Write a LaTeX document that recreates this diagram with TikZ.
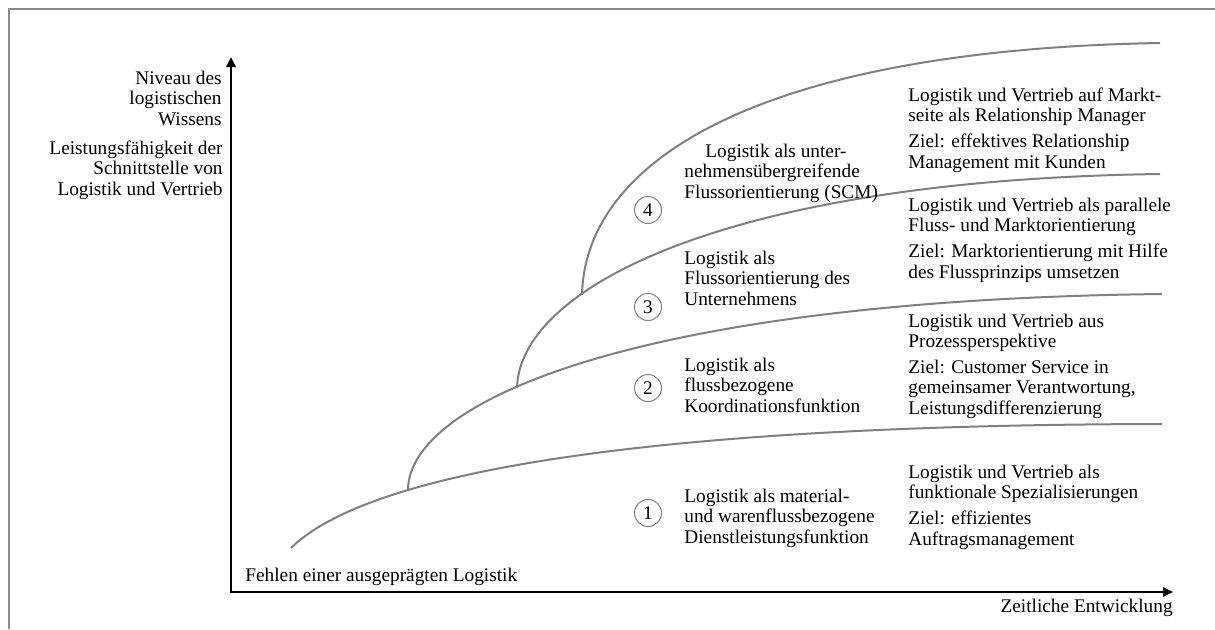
\documentclass[tikz,border=0pt]{standalone}
\usepackage{fontspec}
\setmainfont{Liberation Serif}
\usetikzlibrary{arrows.meta}
\begin{document}
\begin{tikzpicture}[>={Triangle[length=5pt,width=4.5pt]},x=0.5pt,y=0.5pt,
		font=\fontsize{9.65}{10.15}\selectfont,
		kurve/.style={draw=gray, line width=1pt},
		txt/.style={align=left, inner sep=0pt, anchor=base west},
		nr/.style={circle, draw=gray, line width=0.5pt, minimum size=13.5pt, inner sep=0pt}]
		\useasboundingbox (0,0) rectangle (1215,629);
		\draw[gray!90, line width=0.75pt] (9,0) -- (9,620) -- (1215,620); % Rahmen
		\coordinate (O) at (231,37);
		\coordinate (ytip) at (231,572);
		\coordinate (xtip) at (1173,37);
		\draw[<->, line width=1.2pt] (ytip) |- (xtip);
		\node[txt, anchor=base east, align=right] (niveau) at (222,504) {Niveau des\\logistischen\\Wissens};
		\node[txt, anchor=base east, align=right] (leistung) at (223,434) {Leistungsfähigkeit der\\Schnittstelle von\\Logistik und Vertrieb};
		\node[txt] (fehlen) at (245,48) {Fehlen einer ausgeprägten Logistik};
		\node[txt, anchor=base east] (zeit) at (1173,17) {Zeitliche Entwicklung};
		% Entwicklungsstufen, Abzweigpunkte
		\coordinate (a1) at (408,140);
		\coordinate (a2) at (517,241);
		\coordinate (a3) at (582,334);
		\draw[kurve] (291,81) .. controls (360,149) and (600,204) .. (1162,205);
		\draw[kurve] (a1) .. controls (410,229) and (640,329) .. (1162,335);
		\draw[kurve] (a2) .. controls (519,339) and (720,449) .. (1160,455);
		\draw[kurve] (a3) .. controls (585,469) and (760,579) .. (1160,586);
		\foreach \n/\y in {1/116,2/241,3/322,4/419}
			\node[nr] (k\n) at (648,\y) {\n};
		\node[txt] (m1) at (684,86) {Logistik als material-\\und warenflussbezogene\\Dienstleistungsfunktion};
		\node[txt] (m2) at (684,217) {Logistik als\\flussbezogene\\Koordinationsfunktion};
		\node[txt] (m3) at (684,324) {Logistik als\\Flussorientierung des\\Unternehmens};
		\node[txt] (m4) at (684,431) {\hspace*{10.5pt}Logistik als unter-\\nehmensübergreifende\\Flussorientierung (SCM)};
		% rechte Spalte: Schnittstelle und Ziel
		\node[txt] (r1) at (908,84) {Logistik und Vertrieb als\\funktionale Spezialisierungen\\[2.75pt]Ziel: effizientes\\Auftragsmanagement};
		\node[txt] (r2) at (908,215) {Logistik und Vertrieb aus\\Prozessperspektive\\[2.75pt]Ziel: Customer Service in\\gemeinsamer Verantwortung,\\Leistungsdifferenzierung};
		\node[txt] (r3) at (908,351) {Logistik und Vertrieb als parallele\\Fluss- und Marktorientierung\\[2.75pt]Ziel: Marktorientierung mit Hilfe\\des Flussprinzips umsetzen};
		\node[txt] (r4) at (908,461) {Logistik und Vertrieb auf Markt-\\seite als Relationship Manager\\[2.75pt]Ziel: effektives Relationship\\Management mit Kunden};
\end{tikzpicture}
\end{document}
